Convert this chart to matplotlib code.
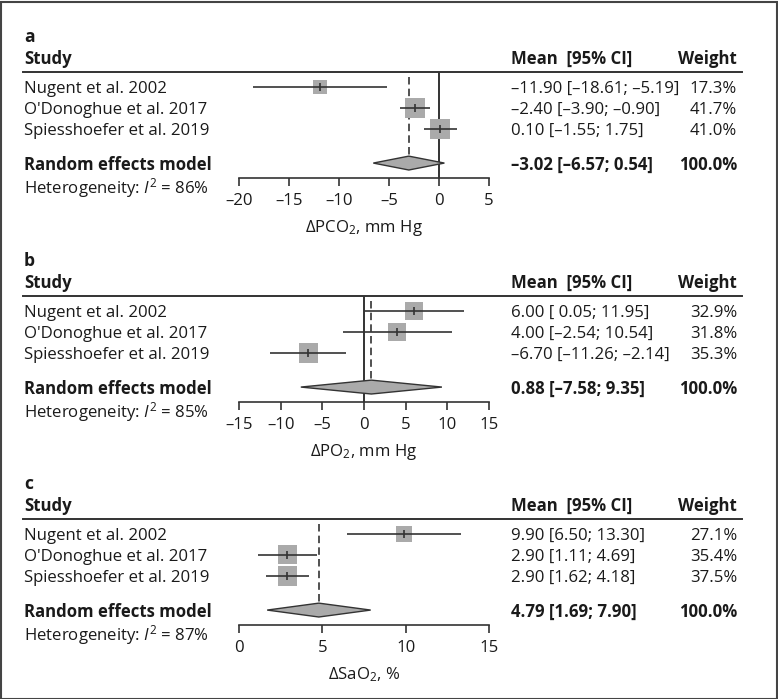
import matplotlib
matplotlib.use("Agg")
import matplotlib.pyplot as plt
import numpy as np
from matplotlib.lines import Line2D
from matplotlib.patches import Rectangle, Polygon

plt.rcParams['font.family'] = ['Open Sans', 'DejaVu Sans']
plt.rcParams['mathtext.fontset'] = 'custom'
plt.rcParams['mathtext.rm'] = 'Open Sans'
plt.rcParams['mathtext.it'] = 'Open Sans:italic'
plt.rcParams['mathtext.bf'] = 'Open Sans:bold'

# data
studies = ["Nugent et al. 2002", "O'Donoghue et al. 2017", "Spiesshoefer et al. 2019"]

pco2_mean = [-11.90, -2.40, 0.10]
pco2_lo = [-18.61, -3.90, -1.55]
pco2_hi = [-5.19, -0.90, 1.75]
pco2_w = [17.3, 41.7, 41.0]
pco2_pool = [-3.02, -6.57, 0.54]
pco2_ticks = [-20, -15, -10, -5, 0, 5]
pco2_i2 = 86

po2_mean = [6.00, 4.00, -6.70]
po2_lo = [0.05, -2.54, -11.26]
po2_hi = [11.95, 10.54, -2.14]
po2_w = [32.9, 31.8, 35.3]
po2_pool = [0.88, -7.58, 9.35]
po2_ticks = [-15, -10, -5, 0, 5, 10, 15]
po2_i2 = 85

sao2_mean = [9.90, 2.90, 2.90]
sao2_lo = [6.50, 1.11, 1.62]
sao2_hi = [13.30, 4.69, 4.18]
sao2_w = [27.1, 35.4, 37.5]
sao2_pool = [4.79, 1.69, 7.90]
sao2_ticks = [0, 5, 10, 15]
sao2_i2 = 87

panels = [
    ("a", pco2_mean, pco2_lo, pco2_hi, pco2_w, pco2_pool, pco2_ticks, pco2_i2,
     r"$\Delta$PCO$_2$, mm Hg"),
    ("b", po2_mean, po2_lo, po2_hi, po2_w, po2_pool, po2_ticks, po2_i2,
     r"$\Delta$PO$_2$, mm Hg"),
    ("c", sao2_mean, sao2_lo, sao2_hi, sao2_w, sao2_pool, sao2_ticks, sao2_i2,
     r"$\Delta$SaO$_2$, %"),
]

W, H = 778, 699
fig = plt.figure(figsize=(W / 100, H / 100), dpi=100)

TXT = '#1a1a1a'
LN = '#333333'
SQ = '#aaaaaa'
FS = 12.1
DASH = '\u2013'


def fy(py):
    return 1 - py / H


def fx(px):
    return px / W


def num(v):
    return ('%.2f' % v).replace('-', DASH)


def fmt(m, lo, hi):
    lo_s = num(lo)
    # meta pads a positive lower bound when the column has negatives
    if 0 <= lo < 1 and hi >= 10:
        lo_s = ' ' + lo_s
    return '%s [%s; %s]' % (num(m), lo_s, num(hi))


offsets = [0, 224, 447]
model_row = 3.62
dy = 2  # text baseline nudge

for (letter, mean, lo, hi, w, pool, ticks, i2, xlabel), off in zip(panels, offsets):
    top = 72 + off
    bot = 178 + off
    ax = fig.add_axes([fx(239), fy(bot), fx(250), (bot - top) / H])
    ax.set_xlim(ticks[0], ticks[-1])
    ax.set_ylim(4.33, -0.71)
    for sp in ['left', 'right', 'top']:
        ax.spines[sp].set_visible(False)
    ax.spines['bottom'].set_color(LN)
    ax.spines['bottom'].set_linewidth(1.2)
    ax.set_yticks([])
    ax.set_xticks(ticks)
    ax.set_xticklabels([str(t).replace('-', DASH) for t in ticks])
    ax.tick_params(axis='x', direction='out', length=6, width=1.2, color=LN,
                   pad=4.5, labelsize=FS, labelcolor=TXT)
    ax.set_xlabel(xlabel, fontsize=FS, color=TXT, labelpad=7)
    ax.patch.set_alpha(0)

    # reference line at 0
    if ticks[0] < 0 < ticks[-1]:
        ax.axvline(0, color=LN, lw=1.4, zorder=1)
    # pooled estimate line
    ax.plot([pool[0], pool[0]], [-0.45, model_row - 0.3], color=LN, lw=1.2,
            dashes=(4.5, 2.5), zorder=1)

    rows = np.arange(len(mean))
    sizes = [(3.2 * np.sqrt(v) * 0.72) ** 2 for v in w]
    ax.scatter(mean, rows, s=sizes, marker='s', color=SQ, edgecolors='none',
               zorder=2)
    ax.hlines(rows, lo, hi, color=LN, lw=1.2, zorder=3)
    ax.vlines(mean, rows - 0.2, rows + 0.2, color=LN, lw=1.2, zorder=3)

    dia = Polygon([[pool[1], model_row], [pool[0], model_row - 0.33],
                   [pool[2], model_row], [pool[0], model_row + 0.33]],
                  closed=True, facecolor=SQ, edgecolor=LN, lw=1.0, zorder=3)
    ax.add_patch(dia)

    # text columns
    fig.text(fx(24), fy(35 + off + dy), letter, fontsize=FS + 0.5,
             fontweight='bold', color=TXT, va='center')
    fig.text(fx(24), fy(57 + off + dy), 'Study', fontsize=FS, fontweight='bold',
             color=TXT, va='center')
    fig.text(fx(511), fy(57 + off + dy), 'Mean  [95% CI]', fontsize=FS,
             fontweight='bold', color=TXT, va='center')
    fig.text(fx(737), fy(57 + off + dy), 'Weight', fontsize=FS, fontweight='bold',
             color=TXT, va='center', ha='right')
    fig.add_artist(Line2D([fx(23), fx(742)], [fy(top), fy(top)], color=LN,
                          lw=1.4))

    for i, name in enumerate(studies):
        ypx = 87 + off + 21 * i + dy
        fig.text(fx(24), fy(ypx), name, fontsize=FS, color=TXT, va='center')
        fig.text(fx(511), fy(ypx), fmt(mean[i], lo[i], hi[i]), fontsize=FS,
                 color=TXT, va='center')
        fig.text(fx(737), fy(ypx), '%.1f%%' % w[i], fontsize=FS, color=TXT,
                 va='center', ha='right')

    fig.text(fx(24), fy(163 + off + dy), 'Random effects model', fontsize=FS,
             fontweight='bold', color=TXT, va='center')
    fig.text(fx(511), fy(163 + off + dy), fmt(pool[0], pool[1], pool[2]),
             fontsize=FS, fontweight='bold', color=TXT, va='center')
    fig.text(fx(737), fy(163 + off + dy), '100.0%', fontsize=FS,
             fontweight='bold', color=TXT, va='center', ha='right')
    fig.text(fx(24), fy(186 + off + dy),
             r'Heterogeneity: $\mathit{I}^2$ = %d%%' % i2,
             fontsize=FS, color=TXT, va='center')

fig.add_artist(Rectangle((0.5 / W, 0.5 / H), 1 - 2 / W, 1 - 2 / H,
                         transform=fig.transFigure, fill=False,
                         edgecolor='#444444', lw=1.5))

fig.savefig('out.png', dpi=100)
